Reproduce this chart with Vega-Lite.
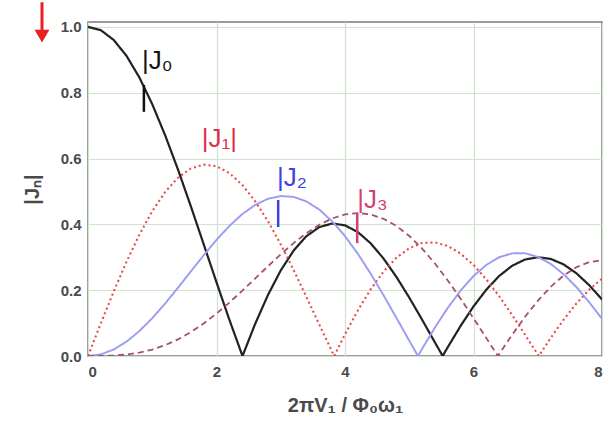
{
  "$schema": "https://vega.github.io/schema/vega-lite/v6.json",
  "autosize": "none",
  "width": 514,
  "height": 334,
  "padding": {"left": 88, "top": 22, "right": 9, "bottom": 74},
  "background": "white",
  "config": {
    "view": {"stroke": "#7a7a7a", "strokeWidth": 1.5},
    "font": "Liberation Sans"
  },
  "datasets": {
    "curves": [
      {"s":"J0","x":0,"y":1.0},{"s":"J0","x":0.2,"y":0.99},{"s":"J0","x":0.4,"y":0.9604},{"s":"J0","x":0.6,"y":0.912},{"s":"J0","x":0.8,"y":0.8463},{"s":"J0","x":1.0,"y":0.7652},{"s":"J0","x":1.2,"y":0.6711},{"s":"J0","x":1.4,"y":0.5669},{"s":"J0","x":1.6,"y":0.4554},{"s":"J0","x":1.8,"y":0.34},{"s":"J0","x":2.0,"y":0.2239},{"s":"J0","x":2.2,"y":0.1104},{"s":"J0","x":2.4,"y":0.0025},{"s":"J0","x":2.405,"y":0},{"s":"J0","x":2.6,"y":0.0968},{"s":"J0","x":2.8,"y":0.185},{"s":"J0","x":3.0,"y":0.2601},{"s":"J0","x":3.2,"y":0.3202},{"s":"J0","x":3.4,"y":0.3643},{"s":"J0","x":3.6,"y":0.3918},{"s":"J0","x":3.8,"y":0.4026},{"s":"J0","x":4.0,"y":0.3971},{"s":"J0","x":4.2,"y":0.3766},{"s":"J0","x":4.4,"y":0.3423},{"s":"J0","x":4.6,"y":0.2961},{"s":"J0","x":4.8,"y":0.2404},{"s":"J0","x":5.0,"y":0.1776},{"s":"J0","x":5.2,"y":0.1103},{"s":"J0","x":5.4,"y":0.0412},{"s":"J0","x":5.52,"y":0},{"s":"J0","x":5.6,"y":0.027},{"s":"J0","x":5.8,"y":0.0917},{"s":"J0","x":6.0,"y":0.1506},{"s":"J0","x":6.2,"y":0.2017},{"s":"J0","x":6.4,"y":0.2433},{"s":"J0","x":6.6,"y":0.274},{"s":"J0","x":6.8,"y":0.2931},{"s":"J0","x":7.0,"y":0.3001},{"s":"J0","x":7.2,"y":0.2951},{"s":"J0","x":7.4,"y":0.2786},{"s":"J0","x":7.6,"y":0.2516},{"s":"J0","x":7.8,"y":0.2154},{"s":"J0","x":8.0,"y":0.1717},
      {"s":"J1","x":0,"y":0},{"s":"J1","x":0.2,"y":0.0995},{"s":"J1","x":0.4,"y":0.196},{"s":"J1","x":0.6,"y":0.2867},{"s":"J1","x":0.8,"y":0.3688},{"s":"J1","x":1.0,"y":0.4401},{"s":"J1","x":1.2,"y":0.4983},{"s":"J1","x":1.4,"y":0.5419},{"s":"J1","x":1.6,"y":0.5699},{"s":"J1","x":1.8,"y":0.5815},{"s":"J1","x":2.0,"y":0.5767},{"s":"J1","x":2.2,"y":0.556},{"s":"J1","x":2.4,"y":0.5202},{"s":"J1","x":2.6,"y":0.4708},{"s":"J1","x":2.8,"y":0.4097},{"s":"J1","x":3.0,"y":0.3391},{"s":"J1","x":3.2,"y":0.2613},{"s":"J1","x":3.4,"y":0.1792},{"s":"J1","x":3.6,"y":0.0955},{"s":"J1","x":3.8,"y":0.0128},{"s":"J1","x":3.832,"y":0},{"s":"J1","x":4.0,"y":0.066},{"s":"J1","x":4.2,"y":0.1386},{"s":"J1","x":4.4,"y":0.2028},{"s":"J1","x":4.6,"y":0.2566},{"s":"J1","x":4.8,"y":0.2985},{"s":"J1","x":5.0,"y":0.3276},{"s":"J1","x":5.2,"y":0.3432},{"s":"J1","x":5.4,"y":0.3453},{"s":"J1","x":5.6,"y":0.3343},{"s":"J1","x":5.8,"y":0.311},{"s":"J1","x":6.0,"y":0.2767},{"s":"J1","x":6.2,"y":0.2329},{"s":"J1","x":6.4,"y":0.1816},{"s":"J1","x":6.6,"y":0.125},{"s":"J1","x":6.8,"y":0.0652},{"s":"J1","x":7.0,"y":0.0047},{"s":"J1","x":7.016,"y":0},{"s":"J1","x":7.2,"y":0.0543},{"s":"J1","x":7.4,"y":0.1096},{"s":"J1","x":7.6,"y":0.1592},{"s":"J1","x":7.8,"y":0.2014},{"s":"J1","x":8.0,"y":0.2346},
      {"s":"J2","x":0,"y":0},{"s":"J2","x":0.2,"y":0.005},{"s":"J2","x":0.4,"y":0.0197},{"s":"J2","x":0.6,"y":0.0437},{"s":"J2","x":0.8,"y":0.0758},{"s":"J2","x":1.0,"y":0.1149},{"s":"J2","x":1.2,"y":0.1594},{"s":"J2","x":1.4,"y":0.2072},{"s":"J2","x":1.6,"y":0.257},{"s":"J2","x":1.8,"y":0.3061},{"s":"J2","x":2.0,"y":0.3528},{"s":"J2","x":2.2,"y":0.3951},{"s":"J2","x":2.4,"y":0.431},{"s":"J2","x":2.6,"y":0.459},{"s":"J2","x":2.8,"y":0.4777},{"s":"J2","x":3.0,"y":0.4861},{"s":"J2","x":3.2,"y":0.4835},{"s":"J2","x":3.4,"y":0.4697},{"s":"J2","x":3.6,"y":0.4449},{"s":"J2","x":3.8,"y":0.4093},{"s":"J2","x":4.0,"y":0.3641},{"s":"J2","x":4.2,"y":0.3106},{"s":"J2","x":4.4,"y":0.2501},{"s":"J2","x":4.6,"y":0.1845},{"s":"J2","x":4.8,"y":0.116},{"s":"J2","x":5.0,"y":0.0466},{"s":"J2","x":5.136,"y":0},{"s":"J2","x":5.2,"y":0.0217},{"s":"J2","x":5.4,"y":0.0867},{"s":"J2","x":5.6,"y":0.1464},{"s":"J2","x":5.8,"y":0.1989},{"s":"J2","x":6.0,"y":0.2428},{"s":"J2","x":6.2,"y":0.2768},{"s":"J2","x":6.4,"y":0.3001},{"s":"J2","x":6.6,"y":0.3119},{"s":"J2","x":6.8,"y":0.3123},{"s":"J2","x":7.0,"y":0.3014},{"s":"J2","x":7.2,"y":0.28},{"s":"J2","x":7.4,"y":0.249},{"s":"J2","x":7.6,"y":0.2097},{"s":"J2","x":7.8,"y":0.1638},{"s":"J2","x":8.0,"y":0.113},
      {"s":"J3","x":0,"y":0},{"s":"J3","x":0.2,"y":0.0002},{"s":"J3","x":0.4,"y":0.0013},{"s":"J3","x":0.6,"y":0.0044},{"s":"J3","x":0.8,"y":0.0102},{"s":"J3","x":1.0,"y":0.0196},{"s":"J3","x":1.2,"y":0.0329},{"s":"J3","x":1.4,"y":0.0504},{"s":"J3","x":1.6,"y":0.0725},{"s":"J3","x":1.8,"y":0.0987},{"s":"J3","x":2.0,"y":0.1289},{"s":"J3","x":2.2,"y":0.1624},{"s":"J3","x":2.4,"y":0.1981},{"s":"J3","x":2.6,"y":0.2354},{"s":"J3","x":2.8,"y":0.2726},{"s":"J3","x":3.0,"y":0.309},{"s":"J3","x":3.2,"y":0.3431},{"s":"J3","x":3.4,"y":0.3734},{"s":"J3","x":3.6,"y":0.3988},{"s":"J3","x":3.8,"y":0.418},{"s":"J3","x":4.0,"y":0.4301},{"s":"J3","x":4.2,"y":0.4344},{"s":"J3","x":4.4,"y":0.4302},{"s":"J3","x":4.6,"y":0.417},{"s":"J3","x":4.8,"y":0.3952},{"s":"J3","x":5.0,"y":0.3649},{"s":"J3","x":5.2,"y":0.3265},{"s":"J3","x":5.4,"y":0.2811},{"s":"J3","x":5.6,"y":0.2297},{"s":"J3","x":5.8,"y":0.1738},{"s":"J3","x":6.0,"y":0.1148},{"s":"J3","x":6.2,"y":0.0543},{"s":"J3","x":6.38,"y":0},{"s":"J3","x":6.4,"y":0.006},{"s":"J3","x":6.6,"y":0.064},{"s":"J3","x":6.8,"y":0.1185},{"s":"J3","x":7.0,"y":0.1675},{"s":"J3","x":7.2,"y":0.2099},{"s":"J3","x":7.4,"y":0.2442},{"s":"J3","x":7.6,"y":0.2696},{"s":"J3","x":7.8,"y":0.2854},{"s":"J3","x":8.0,"y":0.2911}
    ],
    "labels": [
      {"t":"|J₀","x":0.84,"y":0.897,"c":"#111111"},
      {"t":"|J₁|","x":1.77,"y":0.66,"c":"#e0304a"},
      {"t":"|J₂","x":2.94,"y":0.541,"c":"#4040e0"},
      {"t":"|J₃","x":4.19,"y":0.474,"c":"#d0407a"}
    ],
    "ticks": [
      {"x":0.87,"y1":0.742,"y2":0.824,"c":"#111111"},
      {"x":2.96,"y1":0.392,"y2":0.474,"c":"#4040e0"},
      {"x":4.19,"y1":0.343,"y2":0.435,"c":"#d0407a"}
    ],
    "arrow": [
      {"x":-0.716,"y1":1.075,"y2":0.972}
    ]
  },
  "layer": [
    {
      "data": {"name": "curves"},
      "mark": {"type": "line", "clip": true},
      "encoding": {
        "x": {"field": "x", "type": "quantitative", "scale": {"domain": [0, 8], "nice": false},
          "axis": {"values": [0, 2, 4, 6, 8], "format": "d", "grid": true, "gridColor": "#cfe3cf", "gridWidth": 1.2, "domain": false,
            "ticks": false, "labelFont": "Liberation Sans", "labelFontWeight": "bold", "labelFontSize": 15, "labelColor": "#4a4a4a", "labelPadding": 8,
            "title": "2πV₁ / Φ₀ω₁", "titleFont": "Liberation Sans", "titleFontSize": 20, "titleFontWeight": "bold", "titleColor": "#4a4a4a", "titlePadding": 16}},
        "y": {"field": "y", "type": "quantitative", "scale": {"domain": [0, 1.015], "nice": false},
          "axis": {"values": [0, 0.2, 0.4, 0.6, 0.8, 1.0], "format": ".1f", "grid": true, "gridColor": "#cfe3cf", "gridWidth": 1.2, "domain": false,
            "ticks": false, "labelFont": "Liberation Sans", "labelFontWeight": "bold", "labelFontSize": 15, "labelColor": "#4a4a4a", "labelPadding": 7,
            "title": "|Jₙ|", "titleFont": "Liberation Sans", "titleFontSize": 20, "titleFontWeight": "bold", "titleColor": "#4a4a4a", "titlePadding": 18}},
        "color": {"field": "s", "type": "nominal", "scale": {"domain": ["J0", "J1", "J2", "J3"], "range": ["#222222", "#e84848", "#9c9cf2", "#a4506e"]}, "legend": null},
        "strokeDash": {"field": "s", "type": "nominal", "scale": {"domain": ["J0", "J1", "J2", "J3"], "range": [[1, 0], [2, 3], [1, 0], [6, 4]]}, "legend": null},
        "strokeWidth": {"field": "s", "type": "nominal", "scale": {"domain": ["J0", "J1", "J2", "J3"], "range": [2.2, 1.8, 1.2, 1.6]}, "legend": null}
      }
    },
    {
      "data": {"name": "ticks"},
      "mark": {"type": "rule", "strokeWidth": 2.5},
      "encoding": {
        "x": {"field": "x", "type": "quantitative"},
        "y": {"field": "y1", "type": "quantitative"},
        "y2": {"field": "y2"},
        "color": {"field": "c", "type": "nominal", "scale": null}
      }
    },
    {
      "data": {"name": "labels"},
      "mark": {"type": "text", "align": "left", "baseline": "middle", "font": "Liberation Sans", "fontSize": 26},
      "encoding": {
        "x": {"field": "x", "type": "quantitative"},
        "y": {"field": "y", "type": "quantitative"},
        "text": {"field": "t"},
        "color": {"field": "c", "type": "nominal", "scale": null}
      }
    },
    {
      "data": {"name": "arrow"},
      "mark": {"type": "rule", "color": "#e82020", "strokeWidth": 3, "clip": false},
      "encoding": {
        "x": {"field": "x", "type": "quantitative"},
        "y": {"field": "y1", "type": "quantitative"},
        "y2": {"field": "y2"}
      }
    },
    {
      "data": {"name": "arrow"},
      "mark": {"type": "point", "shape": "triangle-down", "filled": true, "color": "#e82020", "size": 220, "opacity": 1, "clip": false},
      "encoding": {
        "x": {"field": "x", "type": "quantitative"},
        "y": {"field": "y2", "type": "quantitative"}
      }
    }
  ]
}
